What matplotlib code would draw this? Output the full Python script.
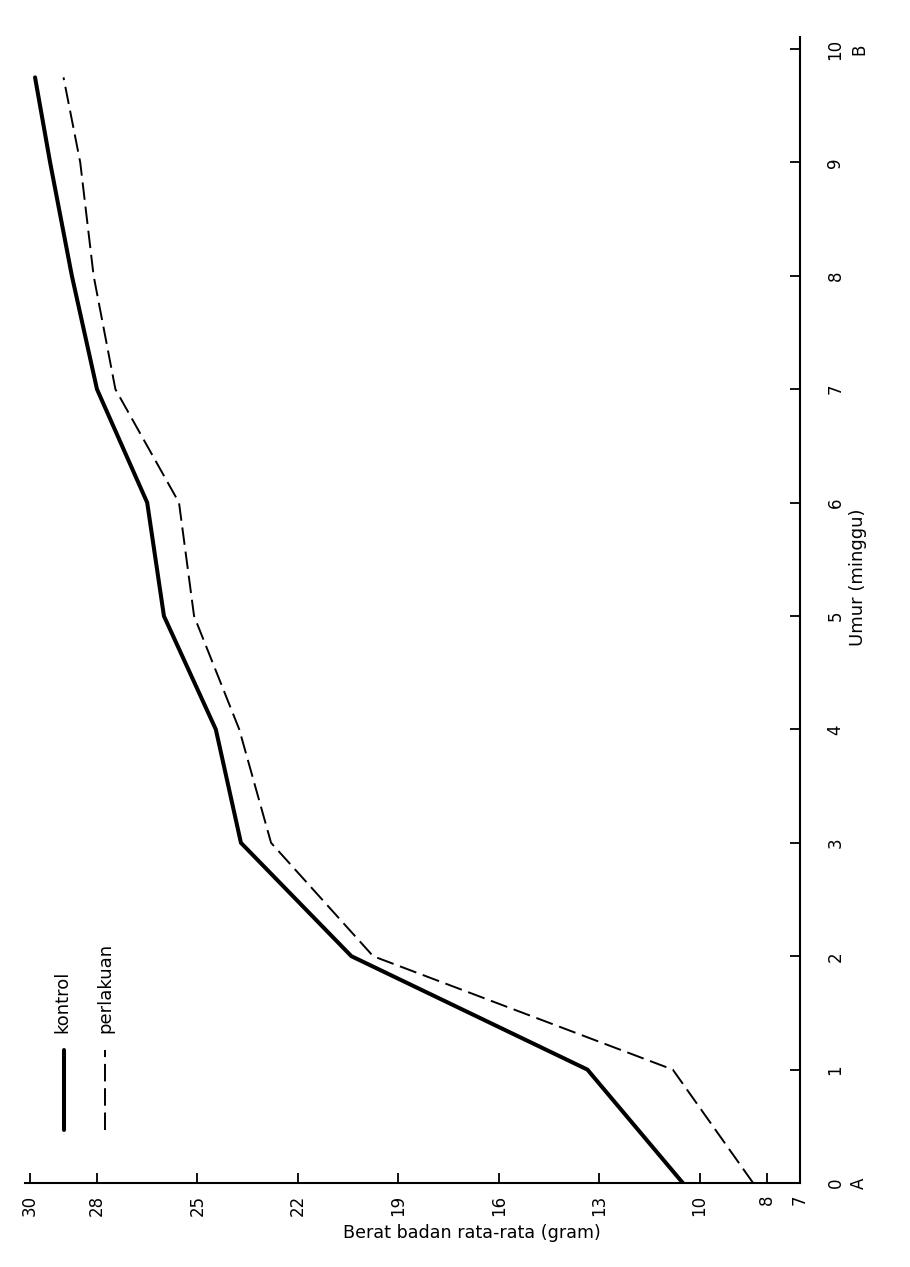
import matplotlib
matplotlib.use("Agg")
import matplotlib.pyplot as plt

# ---- data ----
weeks = [0, 1, 2, 3, 4, 5, 6, 7, 8, 9, 9.75]
kontrol = [10.5, 13.35, 20.4, 23.7, 24.45, 26.0, 26.5, 28.0, 28.75, 29.4, 29.85]
perlakuan = [8.4, 10.8, 19.75, 22.8, 23.75, 25.1, 25.55, 27.45, 28.1, 28.5, 29.0]

weight_ticks = [7, 8, 10, 13, 16, 19, 22, 25, 28, 30]
week_ticks = [0, 1, 2, 3, 4, 5, 6, 7, 8, 9, 10]

xlabel_text = "Berat badan rata-rata (gram)"
ylabel_text = "Umur (minggu)"
legend_labels = ["kontrol", "perlakuan"]

plt.rcParams['font.family'] = ['DejaVu Sans']

W, H = 910, 1267
fig = plt.figure(figsize=(W / 100, H / 100), dpi=100)
left_px, right_px, bottom_px, top_px = 25, 800, 1183, 37
ax = fig.add_axes([left_px / W, 1 - bottom_px / H,
                   (right_px - left_px) / W, (bottom_px - top_px) / H])

ax.plot(kontrol, weeks, color='black', lw=2.9, solid_joinstyle='miter',
        solid_capstyle='round')
ax.plot(perlakuan, weeks, color='black', lw=1.4, dashes=(9, 3.5))

ax.set_xlim(30.15, 7)
ax.set_ylim(0, 10.106)

for s in ['top', 'left']:
    ax.spines[s].set_visible(False)
for s in ['right', 'bottom']:
    ax.spines[s].set_linewidth(1.5)

ax.set_xticks(weight_ticks)
ax.set_xticklabels([str(t) for t in weight_ticks])
ax.yaxis.tick_right()
ax.set_yticks(week_ticks)
ax.set_yticklabels([str(t) for t in week_ticks])

ax.tick_params(axis='x', direction='in', length=7, width=1.3, pad=8.5,
               labelsize=12, labelrotation=90)
ax.tick_params(axis='y', direction='in', length=7, width=1.3, pad=19,
               labelsize=12, labelrotation=90, left=False, right=True,
               labelleft=False, labelright=True)
for lab in ax.get_yticklabels():
    lab.set_va('center')
    lab.set_ha('left')

# axis titles
ax.text(0.577, -0.0436, xlabel_text, transform=ax.transAxes,
        ha='center', va='center', fontsize=12.6)
ax.text(1.075, 0.529, ylabel_text, transform=ax.transAxes, rotation=90,
        ha='center', va='center', fontsize=13)

# end labels A / B
ax.annotate('A', xy=(1, week_ticks[0]), xycoords=('axes fraction', 'data'),
            xytext=(36, 0), textcoords='offset points', rotation=90,
            ha='left', va='center', fontsize=12, annotation_clip=False)
ax.annotate('B', xy=(1, week_ticks[-1]), xycoords=('axes fraction', 'data'),
            xytext=(36, 0), textcoords='offset points', rotation=90,
            ha='left', va='center', fontsize=12, annotation_clip=False)

# rotated legend
ax.plot([0.0503, 0.0503], [0.0462, 0.116], transform=ax.transAxes,
        color='black', lw=2.9, solid_capstyle='round', clip_on=False)
ax.plot([0.1032, 0.1032], [0.0462, 0.116], transform=ax.transAxes,
        color='black', lw=1.4, dashes=(9, 3.5), clip_on=False)
ax.text(0.048, 0.131, legend_labels[0], transform=ax.transAxes, rotation=90,
        ha='center', va='bottom', fontsize=13)
ax.text(0.1032, 0.131, legend_labels[1], transform=ax.transAxes, rotation=90,
        ha='center', va='bottom', fontsize=13)

fig.savefig("out.png", dpi=100)
